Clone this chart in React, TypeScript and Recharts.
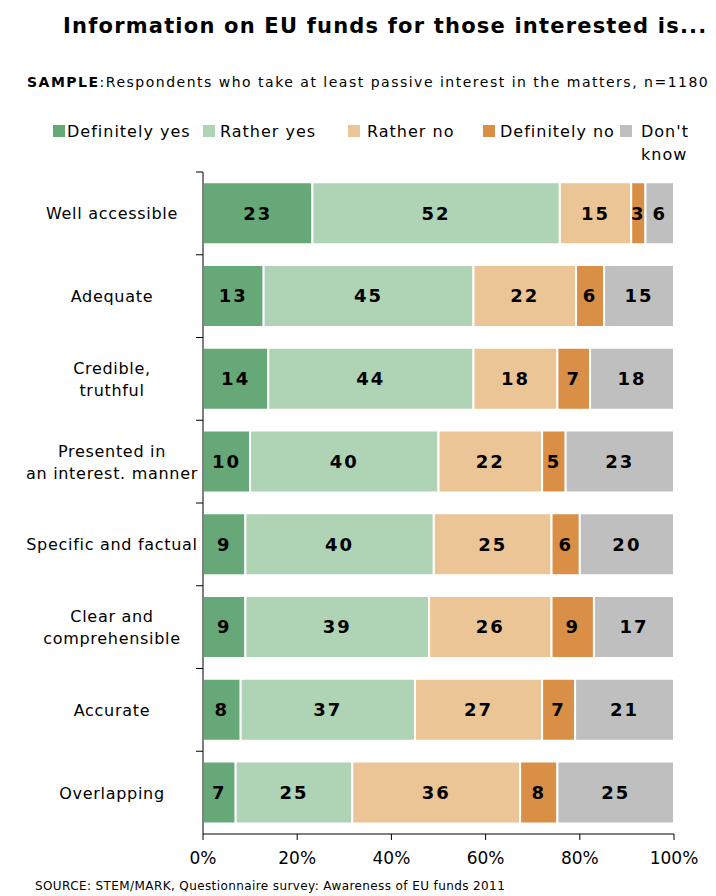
import React from 'react'
import { BarChart, Bar, XAxis, YAxis, LabelList } from 'recharts'

const categories = [
  'Well accessible',
  'Adequate',
  'Credible,\ntruthful',
  'Presented in\nan interest. manner',
  'Specific and factual',
  'Clear and\ncomprehensible',
  'Accurate',
  'Overlapping',
]

const definitelyYes = [23, 13, 14, 10, 9, 9, 8, 7]
const ratherYes = [52, 45, 44, 40, 40, 39, 37, 25]
const ratherNo = [15, 22, 18, 22, 25, 26, 27, 36]
const definitelyNo = [3, 6, 7, 5, 6, 9, 7, 8]
const dontKnow = [6, 15, 18, 23, 20, 17, 21, 25]

const xTicks = [0, 0.2, 0.4, 0.6, 0.8, 1]

const series = [
  { key: 'defYes', name: 'Definitely yes', color: '#66a877' },
  { key: 'ratherYes', name: 'Rather yes', color: '#aed3b5' },
  { key: 'ratherNo', name: 'Rather no', color: '#ecc597' },
  { key: 'defNo', name: 'Definitely no', color: '#da8f47' },
  { key: 'dontKnow', name: "Don't\nknow", color: '#bfbfbf' },
]

const data = categories.map((c, i) => ({
  name: c,
  defYes: definitelyYes[i],
  ratherYes: ratherYes[i],
  ratherNo: ratherNo[i],
  defNo: definitelyNo[i],
  dontKnow: dontKnow[i],
}))

const FONT = '"DejaVu Sans", Verdana, sans-serif'

// plot area
const TOP = 172
const BOTTOM = 834
const LEFT = 203
const RIGHT = 674
const BAND = (BOTTOM - TOP) / categories.length
const LABEL_X = 112

const legendPos = [
  { sq: 53, tx: 67 },
  { sq: 203, tx: 220 },
  { sq: 348, tx: 367 },
  { sq: 483, tx: 500 },
  { sq: 620, tx: 641 },
]

function YTick(props: any) {
  const { y, payload } = props
  const lines = String(payload.value).split('\n')
  const startY = y - ((lines.length - 1) * 22) / 2
  return (
    <g>
      <line x1={LEFT - 7} x2={LEFT} y1={y - BAND / 2} y2={y - BAND / 2} stroke="#000" strokeWidth={1} />
      <text x={LABEL_X} y={startY} textAnchor="middle" dominantBaseline="central" fontFamily={FONT} fontSize={16} letterSpacing={0.7} fill="#000">
        {lines.map((l, i) => (
          <tspan key={i} x={LABEL_X} dy={i === 0 ? 0 : 22}>{l}</tspan>
        ))}
      </text>
    </g>
  )
}

export default function App() {
  return (
    <div style={{ position: 'absolute', left: 0, top: 0, width: 716, height: 896, background: '#fff', fontFamily: FONT, color: '#000' }}>
      <div style={{ position: 'absolute', left: 63, top: 14, fontSize: 21, fontWeight: 'bold', letterSpacing: 1.2, whiteSpace: 'nowrap' }}>
        Information on EU funds for those interested is...
      </div>
      <div style={{ position: 'absolute', left: 27, top: 74, fontSize: 14, letterSpacing: 1.5, whiteSpace: 'nowrap' }}>
        <b>SAMPLE</b>:Respondents who take at least passive interest in the matters, n=1180
      </div>
      {series.map((s, i) => (
        <React.Fragment key={s.key}>
          <div style={{ position: 'absolute', left: legendPos[i].sq, top: 125, width: 12, height: 12, background: s.color }} />
          <div style={{ position: 'absolute', left: legendPos[i].tx, top: 120, fontSize: 16, lineHeight: '23px', letterSpacing: 1, whiteSpace: 'pre' }}>
            {s.name}
          </div>
        </React.Fragment>
      ))}
      <div style={{ position: 'absolute', left: 0, top: 0 }}>
        <BarChart
          width={716}
          height={896}
          data={data}
          layout="vertical"
          stackOffset="expand"
          barCategoryGap="12.5%"
          margin={{ top: TOP, bottom: 0, left: 0, right: 716 - RIGHT }}
        >
          <XAxis
            type="number"
            domain={[0, 1]}
            ticks={xTicks}
            tickFormatter={(v: number) => `${Math.round(v * 100)}%`}
            axisLine={{ stroke: '#000' }}
            tickLine={{ stroke: '#000' }}
            tickSize={6}
            tickMargin={12}
            tick={{ fill: '#000', fontSize: 17, fontFamily: FONT }}
            height={896 - BOTTOM}
          />
          <YAxis
            type="category"
            dataKey="name"
            width={LEFT}
            axisLine={{ stroke: '#000' }}
            tickLine={false}
            tick={<YTick />}
            interval={0}
          />
          {series.map((s) => (
            <Bar key={s.key} dataKey={s.key} stackId="a" fill={s.color} stroke="#fff" strokeWidth={2} isAnimationActive={false}>
              <LabelList
                dataKey={s.key}
                position="center"
                fill="#000"
                fontSize={18}
                fontWeight="bold"
                fontFamily={FONT}
                letterSpacing={2}
              />
            </Bar>
          ))}
        </BarChart>
      </div>
      <div style={{ position: 'absolute', left: 35, top: 879, fontSize: 12, letterSpacing: 0.4, whiteSpace: 'nowrap' }}>
        SOURCE: STEM/MARK, Questionnaire survey: Awareness of EU funds 2011
      </div>
    </div>
  )
}
